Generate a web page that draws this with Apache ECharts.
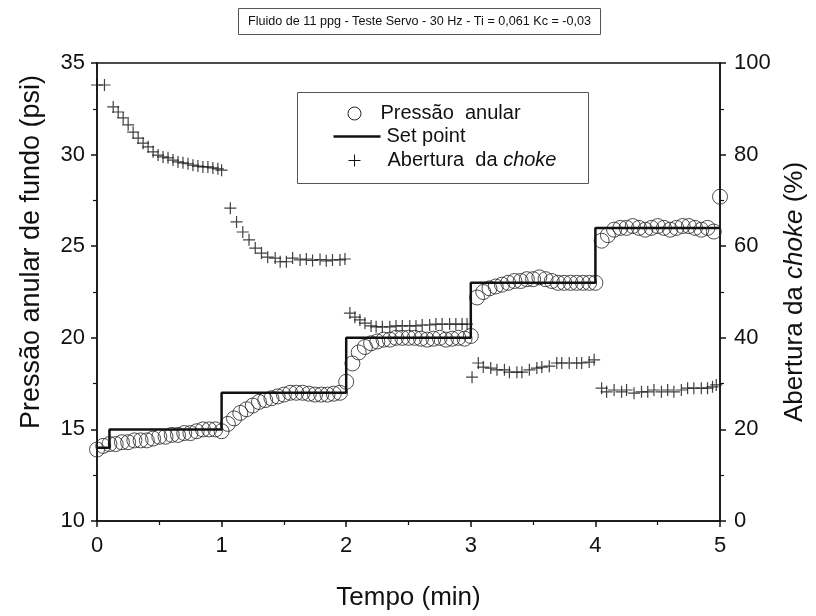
<!DOCTYPE html>
<html>
<head>
<meta charset="utf-8">
<script src="https://cdn.jsdelivr.net/npm/echarts@6/dist/echarts.min.js"></script>
<style>
  html, body { margin: 0; padding: 0; background: #fff; }
  #chart { width: 816px; height: 616px; }
</style>
</head>
<body>
<div id="chart"></div>
<script>
// tempo (min) das leituras de pressao
var pTime = [
  0.00, 0.05, 0.10, 0.15, 0.20, 0.25, 0.30, 0.35, 0.40, 0.45,
  0.50, 0.55, 0.60, 0.65, 0.70, 0.75, 0.80, 0.85, 0.90, 0.95,
  1.00, 1.05, 1.10, 1.15, 1.20, 1.25, 1.30, 1.35, 1.40, 1.45,
  1.50, 1.55, 1.60, 1.65, 1.70, 1.75, 1.80, 1.85, 1.90, 1.95,
  2.00, 2.05, 2.10, 2.15, 2.20, 2.25, 2.30, 2.35, 2.40, 2.45,
  2.50, 2.55, 2.60, 2.65, 2.70, 2.75, 2.80, 2.85, 2.90, 2.95,
  3.00, 3.05, 3.10, 3.15, 3.20, 3.25, 3.30, 3.35, 3.40, 3.45,
  3.50, 3.55, 3.60, 3.65, 3.70, 3.75, 3.80, 3.85, 3.90, 3.95,
  4.00, 4.05, 4.10, 4.15, 4.20, 4.25, 4.30, 4.35, 4.40, 4.45,
  4.50, 4.55, 4.60, 4.65, 4.70, 4.75, 4.80, 4.85, 4.90, 4.95,
  5.00
];
// pressao anular de fundo (psi)
var pressao = [
  13.9, 14.1, 14.2, 14.2, 14.3, 14.3, 14.4, 14.4, 14.4, 14.5,
  14.6, 14.6, 14.7, 14.7, 14.8, 14.8, 14.9, 15.0, 15.0, 15.0,
  14.9, 15.3, 15.6, 15.9, 16.1, 16.3, 16.5, 16.6, 16.7, 16.8,
  16.9, 17.0, 17.0, 17.0, 16.95, 16.9, 16.9, 16.9, 16.95, 17.0,
  17.6, 18.6, 19.2, 19.5, 19.7, 19.8, 19.9, 19.9, 20.0, 20.0,
  20.0, 20.0, 19.95, 19.9, 19.95, 20.0, 19.9, 19.95, 20.0, 19.95,
  20.1, 22.2, 22.5, 22.7, 22.8, 22.9, 23.0, 23.1, 23.1, 23.2,
  23.2, 23.3, 23.2, 23.1, 23.0, 23.0, 23.0, 23.0, 23.0, 23.0,
  23.0, 25.3, 25.6, 25.9, 26.0, 26.0, 26.1, 26.0, 25.9, 26.0,
  26.1, 26.0, 25.9, 26.0, 26.1, 26.1, 26.0, 25.9, 26.0, 25.8,
  27.7
];
// set point (degraus)
var spTime = [0, 0.1, 1, 2, 3, 4, 5];
var spValue = [14.0, 15, 17, 20, 23, 26, 26];
// abertura da choke (%)
var cTime = [
  0.00, 0.06, 0.13, 0.17, 0.21, 0.25, 0.29, 0.33, 0.37, 0.41, 0.45, 0.49, 0.53,
  0.57, 0.61, 0.65, 0.69, 0.73, 0.77, 0.81, 0.85, 0.89, 0.93, 0.97, 1.00,
  1.07, 1.12, 1.17, 1.22, 1.27, 1.32, 1.37, 1.43, 1.47, 1.52, 1.57, 1.63, 1.68,
  1.73, 1.79, 1.84, 1.89, 1.95, 1.99,
  2.03, 2.07, 2.11, 2.15, 2.20, 2.24, 2.29, 2.35, 2.40, 2.45, 2.51, 2.56, 2.61,
  2.67, 2.72, 2.77, 2.83, 2.88, 2.93, 2.97,
  3.01, 3.06, 3.10, 3.16, 3.21, 3.27, 3.31, 3.37, 3.41, 3.47, 3.53, 3.57, 3.63,
  3.69, 3.73, 3.79, 3.85, 3.89, 3.95, 3.99,
  4.05, 4.09, 4.15, 4.21, 4.25, 4.31, 4.37, 4.42, 4.47, 4.53, 4.58, 4.63, 4.69,
  4.74, 4.79, 4.85, 4.90, 4.94, 4.97
];
var choke = [
  95.2, 95.2, 90.4, 89.3, 88.0, 86.5, 84.9, 83.6, 82.5, 81.7, 80.6, 79.9, 79.5,
  79.3, 78.8, 78.4, 78.2, 78.0, 77.7, 77.5, 77.3, 77.3, 77.1, 76.9, 76.6,
  68.3, 65.3, 63.1, 61.4, 59.6, 58.5, 57.6, 57.4, 56.6, 56.6, 57.4, 57.0, 57.2,
  56.9, 57.1, 56.8, 57.0, 57.0, 57.2,
  45.4, 44.5, 43.9, 43.2, 42.6, 42.4, 42.4, 42.4, 42.6, 42.6, 42.6, 42.6, 42.8,
  42.8, 43.0, 43.0, 43.0, 43.0, 43.0, 43.0,
  31.4, 34.5, 33.6, 33.4, 33.0, 33.0, 32.5, 32.5, 32.5, 33.0, 33.4, 33.6, 33.8,
  34.5, 34.5, 34.5, 34.5, 34.5, 34.7, 35.2,
  29.0, 28.2, 28.6, 28.2, 28.6, 27.9, 28.2, 28.2, 28.6, 28.2, 28.6, 28.2, 28.6,
  29.0, 29.0, 29.0, 29.0, 29.3, 29.7
];

var FONT = 'Liberation Sans, Arial, sans-serif';
var INK = '#111';
var plusPath = 'path://M4.5,0h1v4.5h4.5v1h-4.5v4.5h-1v-4.5h-4.5v-1h4.5z';

function zip(a, b) {
  var out = [];
  for (var i = 0; i < a.length; i++) out.push([a[i], b[i]]);
  return out;
}

var chart = echarts.init(document.getElementById('chart'), null, {renderer: 'canvas'});

var option = {
  animation: false,
  backgroundColor: '#fff',
  textStyle: {fontFamily: FONT, color: INK},
  title: {
    text: 'Fluido de 11 ppg - Teste Servo - 30 Hz - Ti = 0,061 Kc = -0,03',
    left: 238,
    top: 8,
    padding: [7, 10, 7, 10],
    borderColor: '#555',
    borderWidth: 1,
    textStyle: {fontFamily: FONT, fontSize: 12.6, fontWeight: 'normal', color: INK}
  },
  grid: {
    left: 97, right: 95, top: 63, bottom: 95,
    show: true, borderColor: INK, borderWidth: 1.5, backgroundColor: 'transparent'
  },
  xAxis: {
    type: 'value',
    min: 0, max: 5, interval: 1,
    name: 'Tempo (min)',
    nameLocation: 'middle',
    nameGap: 64,
    nameTextStyle: {fontFamily: FONT, fontSize: 26, color: INK},
    axisLine: {onZero: false, lineStyle: {color: INK, width: 1.5}},
    axisTick: {length: 6, lineStyle: {color: INK, width: 1.5}},
    minorTick: {show: true, splitNumber: 2, length: 4, lineStyle: {color: INK, width: 1.2}},
    axisLabel: {fontFamily: FONT, fontSize: 22, color: INK, margin: 14},
    splitLine: {show: false}
  },
  yAxis: [{
    type: 'value',
    min: 10, max: 35, interval: 5,
    name: 'Pressão anular de fundo (psi)',
    nameLocation: 'middle',
    nameRotate: 90,
    nameGap: 52,
    nameTextStyle: {fontFamily: FONT, fontSize: 27, color: INK, padding: [0, 0, 0, 80]},
    axisLine: {show: true, onZero: false, lineStyle: {color: INK, width: 1.5}},
    axisTick: {length: 6, lineStyle: {color: INK, width: 1.5}},
    minorTick: {show: true, splitNumber: 2, length: 4, lineStyle: {color: INK, width: 1.2}},
    axisLabel: {fontFamily: FONT, fontSize: 22, color: INK, margin: 12},
    splitLine: {show: false}
  }, {
    type: 'value',
    position: 'right',
    min: 0, max: 100, interval: 20,
    name: '{n|Abertura da }{i|choke}{n| (%)}',
    nameLocation: 'middle',
    nameRotate: 90,
    nameGap: 62,
    nameTextStyle: {
      fontFamily: FONT, fontSize: 26, color: INK,
      rich: {
        n: {fontFamily: FONT, fontSize: 26, color: INK},
        i: {fontFamily: FONT, fontSize: 26, color: INK, fontStyle: 'italic'}
      }
    },
    axisLine: {show: true, onZero: false, lineStyle: {color: INK, width: 1.5}},
    axisTick: {length: 6, lineStyle: {color: INK, width: 1.5}},
    minorTick: {show: true, splitNumber: 2, length: 4, lineStyle: {color: INK, width: 1.2}},
    axisLabel: {fontFamily: FONT, fontSize: 22, color: INK, margin: 14},
    splitLine: {show: false}
  }],
  series: [{
    name: 'Pressão anular',
    type: 'scatter',
    data: zip(pTime, pressao),
    symbol: 'circle',
    symbolSize: 15,
    itemStyle: {color: 'rgba(255,255,255,0)', borderColor: '#222', borderWidth: 1},
    z: 3
  }, {
    name: 'Set point',
    type: 'line',
    data: zip(spTime, spValue),
    step: 'end',
    showSymbol: false,
    lineStyle: {color: INK, width: 2.5},
    z: 4
  }, {
    name: 'Abertura da choke',
    type: 'scatter',
    yAxisIndex: 1,
    data: zip(cTime, choke),
    symbol: plusPath,
    symbolSize: 12,
    itemStyle: {color: INK},
    z: 3
  }],
  graphic: [{
    type: 'group',
    left: 297,
    top: 92,
    children: [{
      type: 'rect',
      shape: {x: 0, y: 0, width: 291, height: 91},
      style: {fill: '#fff', stroke: '#555', lineWidth: 1}
    }, {
      type: 'circle',
      shape: {cx: 57, cy: 21, r: 6.5},
      style: {fill: 'none', stroke: '#222', lineWidth: 1}
    }, {
      type: 'text',
      x: 83, y: 21,
      style: {text: 'Pressão  anular', fontFamily: FONT, fontSize: 20, fill: INK, verticalAlign: 'middle'}
    }, {
      type: 'line',
      shape: {x1: 36, y1: 44, x2: 83, y2: 44},
      style: {stroke: INK, lineWidth: 2.5}
    }, {
      type: 'text',
      x: 89, y: 44,
      style: {text: 'Set point', fontFamily: FONT, fontSize: 20, fill: INK, verticalAlign: 'middle'}
    }, {
      type: 'line',
      shape: {x1: 51, y1: 68, x2: 63, y2: 68},
      style: {stroke: INK, lineWidth: 1}
    }, {
      type: 'line',
      shape: {x1: 57, y1: 62, x2: 57, y2: 74},
      style: {stroke: INK, lineWidth: 1}
    }, {
      type: 'text',
      x: 90, y: 68,
      style: {
        text: '{n|Abertura  da }{i|choke}',
        fontFamily: FONT, fontSize: 20, fill: INK, verticalAlign: 'middle',
        rich: {
          n: {fontFamily: FONT, fontSize: 20, fill: INK},
          i: {fontFamily: FONT, fontSize: 20, fill: INK, fontStyle: 'italic'}
        }
      }
    }]
  }]
};

chart.setOption(option);
window.addEventListener('resize', chart.resize);
</script>
</body>
</html>
